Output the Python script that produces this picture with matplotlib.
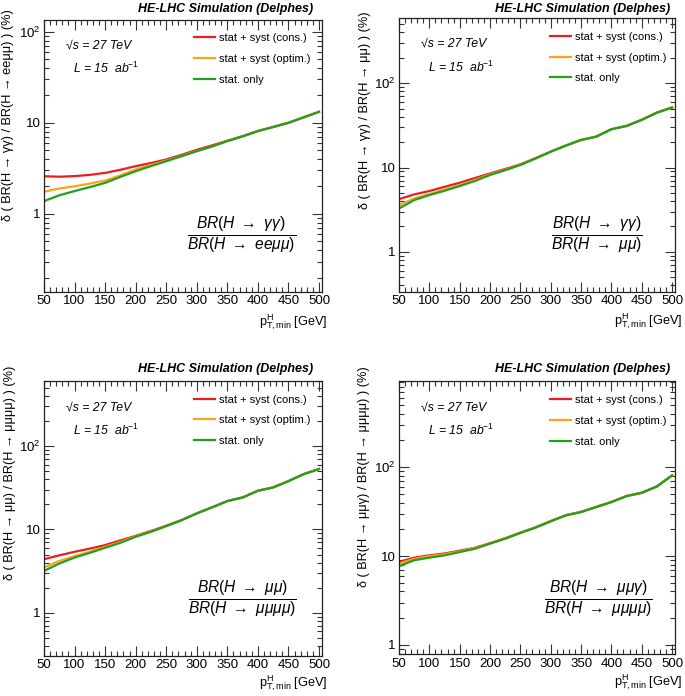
import matplotlib
matplotlib.use("Agg")
import matplotlib.pyplot as plt
from matplotlib.ticker import MultipleLocator, FixedLocator, NullFormatter, LogLocator

plt.rcParams['font.family'] = ['Liberation Sans', 'DejaVu Sans']
plt.rcParams['mathtext.fontset'] = 'custom'
plt.rcParams['mathtext.rm'] = 'Liberation Sans'
plt.rcParams['mathtext.it'] = 'Liberation Sans:italic'
plt.rcParams['mathtext.bf'] = 'Liberation Sans:bold'

pt = [50, 75, 100, 125, 150, 175, 200, 225, 250, 275, 300, 325, 350, 375, 400, 425, 450, 475, 500]

# Panel 1: gamma gamma / ee mu mu
p1_green = [1.38, 1.6, 1.78, 1.97, 2.19, 2.55, 2.94, 3.35, 3.79, 4.3, 4.88, 5.5, 6.3, 7.1, 8.1, 9.0, 10.0, 11.5, 13.2]
p1_red = [2.59, 2.56, 2.6, 2.68, 2.82, 3.05, 3.34, 3.62, 3.96, 4.45, 5.05, 5.65, 6.35, 7.15, 8.15, 9.0, 10.0, 11.5, 13.2]
p1_orange = [1.75, 1.9, 2.01, 2.15, 2.32, 2.65, 3.07, 3.45, 3.85, 4.33, 4.9, 5.5, 6.3, 7.1, 8.1, 9.0, 10.0, 11.5, 13.2]

# Panel 2: gamma gamma / mu mu
p2_green = [3.27, 4.11, 4.71, 5.3, 6.03, 6.92, 8.15, 9.3, 10.7, 12.8, 15.4, 18.2, 21.2, 23.2, 28.4, 31.1, 36.7, 44.7, 51.4]
p2_red = [4.22, 4.8, 5.26, 5.9, 6.6, 7.5, 8.5, 9.6, 10.9, 12.9, 15.4, 18.2, 21.2, 23.2, 28.4, 31.1, 36.7, 44.7, 51.4]
p2_orange = [3.58, 4.3, 4.84, 5.45, 6.2, 7.1, 8.3, 9.4, 10.8, 12.8, 15.4, 18.2, 21.2, 23.2, 28.4, 31.1, 36.7, 44.7, 51.4]

# Panel 3: mu mu / mu mu mu mu
p3_green = [3.19, 3.91, 4.61, 5.25, 6.03, 6.92, 8.17, 9.38, 10.97, 12.9, 15.6, 18.4, 21.9, 24.2, 29.1, 31.9, 38.0, 46.1, 53.0]
p3_red = [4.4, 4.9, 5.4, 5.9, 6.5, 7.4, 8.4, 9.6, 11.1, 12.95, 15.6, 18.4, 21.9, 24.2, 29.1, 31.9, 38.0, 46.1, 53.0]
p3_orange = [3.5, 4.2, 4.79, 5.4, 6.2, 7.1, 8.3, 9.45, 11.0, 12.9, 15.6, 18.4, 21.9, 24.2, 29.1, 31.9, 38.0, 46.1, 53.0]

# Panel 4: mu mu gamma / mu mu mu mu
p4_green = [7.69, 8.98, 9.6, 10.2, 11.1, 12.1, 13.8, 15.7, 18.2, 20.9, 24.6, 28.7, 31.3, 35.6, 40.5, 47.3, 51.5, 60.7, 80.7]
p4_red = [8.6, 9.6, 10.2, 10.7, 11.5, 12.4, 14.0, 15.9, 18.4, 21.1, 24.8, 28.9, 31.5, 35.8, 40.7, 47.5, 51.7, 60.9, 81.0]
p4_orange = [8.24, 9.3, 10.0, 10.5, 11.3, 12.3, 13.9, 15.8, 18.3, 21.0, 24.7, 28.8, 31.4, 35.7, 40.6, 47.4, 51.6, 60.8, 80.8]

legend_labels = ["stat + syst (cons.)", "stat + syst (optim.)", "stat. only"]
colors = ["#ee1c1c", "#ffa01e", "#1fa01f"]

panels = [
    dict(pos=[0.0642, 0.5805, 0.406, 0.391], ylim=(0.139, 135),
         data=(p1_red, p1_orange, p1_green),
         ylabel="δ ( BR(H → γγ) / BR(H → eeμμ) ) (%)", ylab_xy=(-0.128, 0.65),
         title_xy=(0.457, 0.987), xlab_xy=(1.018, -0.121), leg_xy=(0.54, 0.951),
         ratio=r"$\frac{BR(H\ \rightarrow\ \gamma\gamma)}{BR(H\ \rightarrow\ ee\mu\mu)}$",
         ratio_xy=(0.71, 0.21)),
    dict(pos=[0.5825, 0.5805, 0.403, 0.394], ylim=(0.335, 595),
         data=(p2_red, p2_orange, p2_green),
         ylabel="δ ( BR(H → γγ) / BR(H → μμ) ) (%)", ylab_xy=(-0.122, 0.664),
         title_xy=(0.978, 0.987), xlab_xy=(1.027, -0.118), leg_xy=(0.547, 0.949),
         ratio=r"$\frac{BR(H\ \rightarrow\ \gamma\gamma)}{BR(H\ \rightarrow\ \mu\mu)}$",
         ratio_xy=(0.717, 0.21)),
    dict(pos=[0.0642, 0.0575, 0.406, 0.395], ylim=(0.305, 600),
         data=(p3_red, p3_orange, p3_green),
         ylabel="δ ( BR(H → μμ) / BR(H → μμμμ) ) (%)", ylab_xy=(-0.122, 0.665),
         title_xy=(0.457, 0.470), xlab_xy=(1.018, -0.109), leg_xy=(0.54, 0.951),
         ratio=r"$\frac{BR(H\ \rightarrow\ \mu\mu)}{BR(H\ \rightarrow\ \mu\mu\mu\mu)}$",
         ratio_xy=(0.712, 0.21)),
    dict(pos=[0.5825, 0.0603, 0.403, 0.392], ylim=(0.79, 930),
         data=(p4_red, p4_orange, p4_green),
         ylabel="δ ( BR(H → μμγ) / BR(H → μμμμ) ) (%)", ylab_xy=(-0.126, 0.652),
         title_xy=(0.978, 0.470), xlab_xy=(1.027, -0.115), leg_xy=(0.547, 0.949),
         ratio=r"$\frac{BR(H\ \rightarrow\ \mu\mu\gamma)}{BR(H\ \rightarrow\ \mu\mu\mu\mu)}$",
         ratio_xy=(0.721, 0.205)),
]

fig = plt.figure(figsize=(6.85, 6.96), dpi=100)

for p in panels:
    ax = fig.add_axes(p['pos'])
    for vals, c, lab in zip(p['data'], colors, legend_labels):
        ax.plot(pt, vals, color=c, lw=1.6, label=lab)
    ax.set_yscale('log')
    ax.set_xlim(50, 505)
    ax.set_ylim(*p['ylim'])
    ax.xaxis.set_major_locator(MultipleLocator(50))
    ax.xaxis.set_minor_locator(MultipleLocator(10))
    ax.yaxis.set_major_locator(FixedLocator([1, 10, 100]))
    ax.yaxis.set_minor_locator(LogLocator(base=10, subs=range(2, 10)))
    ax.yaxis.set_minor_formatter(NullFormatter())
    ax.set_yticklabels(["1", "10", r"$10^{2}$"])
    ax.tick_params(which='both', direction='in', top=True, right=True, labelsize=9.5,
                   color='#333333', pad=2.5)
    ax.tick_params(which='major', length=7, width=0.8)
    ax.tick_params(which='minor', length=3.5, width=0.8)
    for s in ax.spines.values():
        s.set_linewidth(0.9)
        s.set_color('#222222')
    fig.text(p['title_xy'][0], p['title_xy'][1], "HE-LHC Simulation (Delphes)",
             ha='right', va='center', fontsize=9, fontweight='bold', fontstyle='italic')
    ax.text(p['ylab_xy'][0], p['ylab_xy'][1], p['ylabel'], transform=ax.transAxes,
            rotation=90, ha='center', va='center', fontsize=9.2)
    ax.text(p['xlab_xy'][0], p['xlab_xy'][1], r"p$_{\mathrm{T,min}}^{\mathrm{H}}$ [GeV]",
            transform=ax.transAxes, ha='right', va='baseline', fontsize=9.2, clip_on=False)
    ax.text(0.079, 0.905, "√s = 27 TeV", transform=ax.transAxes, fontsize=8.8,
            fontstyle='italic', va='center', ha='left')
    ax.text(0.104, 0.82, r"L = 15  ab$^{-1}$", transform=ax.transAxes, fontsize=8.8,
            fontstyle='italic', va='center', ha='left')
    ax.legend(loc='upper left', bbox_to_anchor=p['leg_xy'], frameon=False, fontsize=8.0,
              handlelength=1.9, labelspacing=0.97, handletextpad=0.36,
              borderpad=0, borderaxespad=0)
    ax.text(p['ratio_xy'][0], p['ratio_xy'][1], p['ratio'], transform=ax.transAxes,
            fontsize=16, ha='center', va='center')

fig.savefig("out.png", dpi=100)
